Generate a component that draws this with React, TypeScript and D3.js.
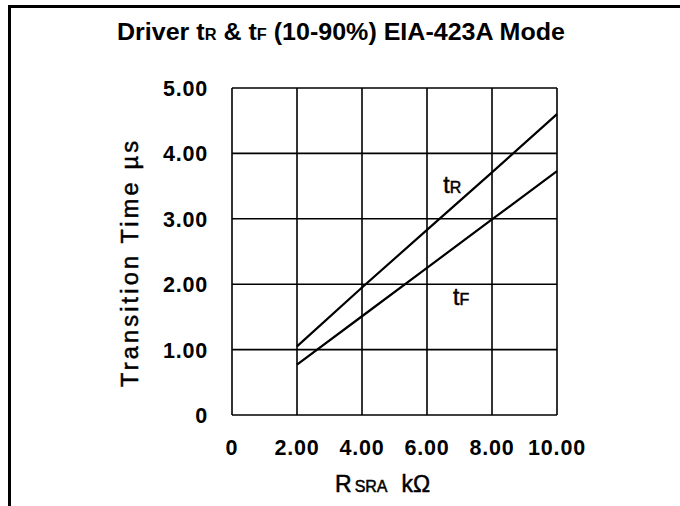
import * as d3 from "d3";

const xTicks = [0, 2, 4, 6, 8, 10];
const yTicks = [0, 1, 2, 3, 4, 5];
const xTickLabels = ["0", "2.00", "4.00", "6.00", "8.00", "10.00"];
const yTickLabels = ["0", "1.00", "2.00", "3.00", "4.00", "5.00"];

// RSRA (kΩ) vs transition time (µs)
const rsra = [2, 4, 6, 8, 10];
const tRise = [1.05, 1.95, 2.83, 3.71, 4.6];
const tFall = [0.77, 1.51, 2.25, 2.99, 3.73];

const font = "Liberation Sans, Arial, Helvetica, sans-serif";

export default function App() {
  const width = 680;
  const height = 506;

  const x = d3.scaleLinear().domain([0, 10]).range([232, 557]);
  const y = d3.scaleLinear().domain([0, 5]).range([415, 88]);

  const line = d3
    .line<number>()
    .x((d, i) => x(rsra[i]))
    .y((d) => y(d));

  // scanned text looks a bit heavier than the regular face
  const heavy = { stroke: "#000", strokeWidth: 0.5 };

  return (
    <svg
      width={width}
      height={height}
      style={{ position: "absolute", left: 0, top: 0, background: "#fff" }}
      fontFamily={font}
    >
      {/* scanned page frame: left and top edges only */}
      <path d="M9.5,506 V6.5 H680" fill="none" stroke="#000" strokeWidth={3} />

      <text
        x={341}
        y={40}
        textAnchor="middle"
        fontSize={24.5}
        fontWeight="bold"
        textLength={448}
        lengthAdjust="spacingAndGlyphs"
      >
        Driver t<tspan fontSize={16}>R</tspan> &amp; t<tspan fontSize={16}>F</tspan> (10-90%) EIA-423A Mode
      </text>

      {/* grid */}
      {xTicks.map((t) => (
        <line key={"gx" + t} x1={x(t)} x2={x(t)} y1={y(0)} y2={y(5)} stroke="#000" strokeWidth={1.6} />
      ))}
      {yTicks.map((t) => (
        <line key={"gy" + t} x1={x(0)} x2={x(10)} y1={y(t)} y2={y(t)} stroke="#000" strokeWidth={1.6} />
      ))}

      {/* tick labels */}
      {yTicks.map((t, i) => (
        <text
          key={"ty" + t}
          x={208}
          y={y(t) + 8}
          textAnchor="end"
          fontSize={21.5}
          fontWeight="bold"
          letterSpacing={0.8}
        >
          {yTickLabels[i]}
        </text>
      ))}
      {xTicks.map((t, i) => (
        <text
          key={"tx" + t}
          x={x(t)}
          y={455}
          textAnchor="middle"
          fontSize={21.5}
          fontWeight="bold"
          letterSpacing={0.8}
        >
          {xTickLabels[i]}
        </text>
      ))}

      {/* curves */}
      <path d={line(tRise) || ""} fill="none" stroke="#000" strokeWidth={2.2} />
      <path d={line(tFall) || ""} fill="none" stroke="#000" strokeWidth={2.2} />

      <text x={x(6.5)} y={y(3.4)} fontSize={23} {...heavy}>
        t<tspan fontSize={16}>R</tspan>
      </text>
      <text x={x(6.8)} y={y(1.68)} fontSize={23} {...heavy}>
        t<tspan fontSize={16}>F</tspan>
      </text>

      {/* axis titles */}
      <text
        transform={`translate(138,264) rotate(-90)`}
        textAnchor="middle"
        fontSize={23.5}
        textLength={246}
        lengthAdjust="spacing"
        {...heavy}
      >
        Transition  Time  µs
      </text>
      <text x={335} y={492} fontSize={23} {...heavy}>
        R<tspan fontSize={16} dx={3}>SRA</tspan>
        <tspan dx={14}>kΩ</tspan>
      </text>
    </svg>
  );
}
